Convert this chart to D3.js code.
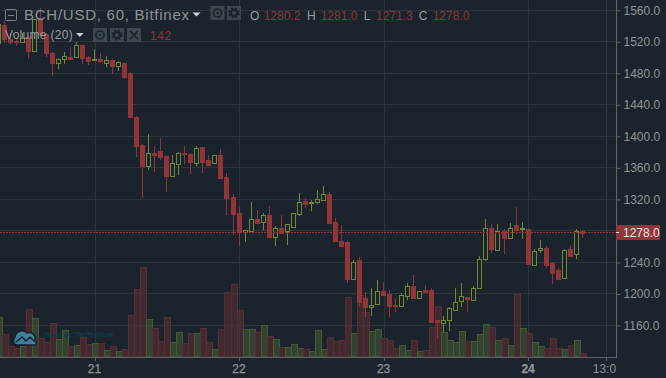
<!DOCTYPE html>
<html><head><meta charset="utf-8">
<script src="https://cdnjs.cloudflare.com/ajax/libs/d3/7.8.5/d3.min.js"></script>
<style>html,body{margin:0;padding:0;background:#1b242c;overflow:hidden}svg{display:block}text{font-family:"Liberation Sans",Arial,sans-serif}</style>
</head><body><div id="c"></div>
<script>
const firstHour=-16;
const open=[1518.3,1541,1523.4,1520.9,1519.6,1526,1508.2,1550,1529.8,1505.6,1493,1498,1500.6,1500.6,1515.8,1500.6,1496.8,1498,1493,1496.8,1489,1493,1480.3,1424.4,1388.9,1362.2,1378.7,1381.3,1375,1349.6,1364.8,1378.7,1377.5,1366,1386.4,1369.9,1366,1376.2,1348.3,1322.9,1302.6,1278.5,1279.8,1295,1291.2,1300,1272.2,1283.6,1279.8,1284.8,1301.3,1317.8,1315,1316.6,1319,1326.7,1291.2,1267,1265.8,1218.9,1243,1194.7,1183.3,1187,1203.6,1199.8,1186,1184.6,1197.3,1210,1194.7,1204.9,1204.9,1166.8,1163,1166.8,1179.5,1191,1196,1192.2,1207.4,1244.2,1283.6,1255.7,1279.8,1270.9,1287.4,1282.3,1282.3,1236.6,1255.7,1258.2,1239.1,1230.3,1220.1,1257,1250.6,1280.2];
const high=[1547.5,1547.5,1531,1524.7,1531,1527,1549,1562.7,1531,1507,1499,1507,1513,1519.6,1516,1502,1510.7,1505.6,1501.8,1498,1495.5,1494,1481.5,1425.7,1390,1402.8,1387.6,1397.8,1376.2,1376.2,1380,1387.6,1378.7,1387.6,1386.4,1376.2,1376.5,1383.8,1353.4,1326.7,1310.2,1281,1316.6,1306.4,1302.6,1311.5,1286,1300,1288.6,1302.6,1328,1321.6,1319,1331.8,1337,1329.3,1296.3,1287.4,1267,1243,1246.8,1202.3,1207.4,1217.6,1215,1204.9,1194.7,1201,1213.8,1224,1203.6,1211.2,1207.4,1167,1171.9,1183.3,1207.4,1213.8,1196,1210,1248,1295,1288.6,1288.6,1282.3,1290,1310.2,1291.2,1283,1256.9,1268.3,1260.7,1240.4,1232.8,1257,1262,1282.3,1281];
const low=[1515.8,1518.3,1517,1514.5,1518.3,1499,1508,1528.5,1500.6,1476.5,1485.3,1491.7,1498,1500,1491.7,1490.4,1495.5,1493,1487.9,1479,1482.8,1474,1423,1373.7,1321.6,1357,1354.6,1369.9,1329.3,1349,1350.8,1364.8,1352.1,1362.2,1353.4,1363.5,1365.8,1345.7,1300,1274.7,1260.7,1265.8,1279.8,1288.6,1281,1272,1260.7,1276,1262,1284.8,1298.8,1309,1305,1314,1318,1288.6,1265.8,1259.4,1213.8,1218,1183.3,1170.6,1171.9,1186,1197.3,1170.6,1177,1183.3,1192.2,1194.7,1193.5,1202.3,1164,1144,1151.6,1152.8,1179.5,1183.3,1177,1192,1207,1241.7,1251.8,1255.7,1250.6,1270.9,1276,1269.6,1237.7,1236.6,1251.8,1232.8,1212.5,1217.6,1220,1248,1244.2,1271.3];
const close=[1542.4,1523.4,1519.6,1519.6,1524.7,1508.2,1548.8,1529.8,1505.6,1493,1498,1501.8,1498,1515.8,1499.3,1495.5,1498,1495.5,1496.8,1489,1494,1475.2,1424.4,1387.6,1362.2,1378.7,1376.2,1373.7,1349.6,1366,1378.7,1377.5,1367.3,1385,1367.3,1363.5,1376.2,1347,1321.6,1301.3,1278.5,1281,1295,1289.9,1300,1272.2,1283.6,1277.2,1288.6,1302.6,1316.6,1314,1316.6,1320.4,1326.7,1290,1267,1260.7,1218.9,1240.4,1189.7,1183.3,1186,1203.6,1198.5,1184.6,1184.6,1198.5,1210,1194.7,1203.6,1202.3,1164.3,1164.3,1166.8,1182,1189.7,1197.3,1193.5,1207.4,1244.2,1283.6,1257,1279.8,1270.9,1283.6,1281,1283.6,1237.9,1254.4,1258.2,1236.6,1226.5,1218.9,1255.7,1248,1279.8,1278];
const volume=[1950,1085,485,385,500,2350,1900,900,700,1650,850,1300,500,550,950,600,650,650,300,500,250,350,2050,3350,4450,1850,1400,750,1950,700,1200,650,1150,1150,1400,700,350,1350,3200,3600,2300,1350,1350,1200,1550,1000,850,450,450,600,400,350,250,1300,350,950,750,800,2950,1150,3050,2200,1250,1350,900,800,400,550,300,800,250,300,1450,2500,1200,800,700,1250,750,750,1100,1600,1450,800,900,550,3100,1400,1150,700,500,400,900,400,350,550,800,142];
const priceTicks=[1560,1520,1480,1440,1400,1360,1320,1280,1240,1200,1160];
const timeTicks=[{h:0,label:"21",bold:false},{h:24,label:"22",bold:false},{h:48,label:"23",bold:false},{h:72,label:"24",bold:true},{h:85,label:"13:0",bold:false}];
const lastPrice=1278;
const header=["BCH/USD, 60, Bitfinex"];
const ohlc=[["O","1280.2"],["H","1281.0"],["L","1271.3"],["C","1278.0"]];

const W=666,H=378;
const RED="#913538",GREEN="#6f8a36",BG="#1b242c",GRID="#2b363b",TXT="#929495";
const svg=d3.select("#c").append("svg").attr("width",W).attr("height",H);
svg.append("rect").attr("width",W).attr("height",H).attr("fill",BG);
const x=d3.scaleLinear().domain([0,72]).range([95,528.6]);
const y=d3.scaleLinear().domain([1120,1573]).range([357,0]);
const v=d3.scaleLinear().domain([0,5000]).range([355.7,255.7]);
const px=a=>Math.round(a)+.5;
const grid=svg.append("g");
priceTicks.forEach(t=>grid.append("line").attr("x1",0).attr("x2",617).attr("y1",px(y(t)-.5)).attr("y2",px(y(t)-.5)).attr("stroke",GRID));
timeTicks.forEach(t=>grid.append("line").attr("y1",0).attr("y2",357).attr("x1",px(x(t.h)-.5)).attr("x2",px(x(t.h)-.5)).attr("stroke",GRID));
const data=open.map((o,i)=>({i:i+firstHour,o,h:high[i],l:low[i],c:close[i],v:volume[i]}));
// volume
const vg=svg.append("g");
vg.selectAll("rect").data(data).join("rect")
 .attr("x",d=>Math.round(x(d.i)-3)+.5).attr("width",d=>Math.round(x(d.i+1)-3)-Math.round(x(d.i)-3)).attr("y",d=>Math.round(v(d.v))+.5).attr("height",d=>Math.max(1,Math.round(355.7-v(d.v))))
 .attr("fill",d=>d.c>=d.o?"#43583a":"#5a2e34").attr("fill-opacity",.6)
 .attr("stroke",d=>d.c>=d.o?"#465a30":"#582d34").attr("stroke-width",1);
// logo
const lg=svg.append("g").attr("opacity",.8);
lg.append("path").attr("d","M16 345a5 5 0 0 1 -1-8a7 7 0 0 1 12-4a6 6 0 0 1 8 7a3 3 0 0 1 0 5z").attr("fill","#4796bd").attr("stroke","#0f1a22").attr("stroke-width",1.5);
lg.append("path").attr("d","M16 342l6-5 4 4 4-4 5 5").attr("fill","none").attr("stroke","#10202c").attr("stroke-width",1.5);
lg.append("text").attr("x",42).attr("y",337).attr("font-size",6.4).attr("font-weight","bold").attr("letter-spacing",.15).attr("fill","#0c2431").attr("stroke","#1f5570").attr("stroke-width",.25).text("charts by TradingView");
// candles
const cg=svg.append("g");
const cs=cg.selectAll("g").data(data).join("g");
cs.append("line").attr("x1",d=>Math.round(x(d.i))-.5).attr("x2",d=>Math.round(x(d.i))-.5).attr("y1",d=>y(d.h)).attr("y2",d=>y(d.l)).attr("stroke",d=>d.c>=d.o?GREEN:RED).attr("stroke-width",1);
cs.append("rect").attr("x",d=>Math.round(x(d.i))-2.5).attr("width",4)
 .attr("y",d=>Math.round(y(Math.max(d.o,d.c)))+.5).attr("height",d=>Math.max(1,Math.round(y(Math.min(d.o,d.c))-y(Math.max(d.o,d.c)))))
 .attr("fill",d=>d.c>=d.o?BG:RED).attr("stroke",d=>d.c>=d.o?GREEN:RED);
// price line
const pl=px(y(lastPrice)-.5);
svg.append("line").attr("x1",0).attr("x2",617).attr("y1",pl).attr("y2",pl).attr("stroke","#96363a").attr("stroke-dasharray","2 1");
// axes
const ya=svg.append("g").attr("transform","translate(616.5,0)");
ya.call(d3.axisRight(y).tickValues(priceTicks).tickSize(4).tickPadding(3).tickFormat(d3.format(".1f")));
ya.select(".domain").attr("d","M0,0V357.5").attr("stroke","#62665f");
ya.selectAll(".tick line").attr("stroke","#62665f");
ya.selectAll("text").attr("fill",TXT).attr("font-size",12).attr("font-family",'"Liberation Sans",Arial,sans-serif').attr("x",7);
ya.selectAll(".tick").filter(d=>d===1280).select("text").remove();
const xa=svg.append("g").attr("transform","translate(0,357)");
xa.append("line").attr("x1",0).attr("x2",617).attr("y1",.5).attr("y2",.5).attr("stroke","#5c6367");
xa.selectAll("line.t").data(timeTicks).join("line").attr("class","t").attr("x1",d=>px(x(d.h)-.5)).attr("x2",d=>px(x(d.h)-.5)).attr("y1",0).attr("y2",4).attr("stroke","#5c6367");
xa.selectAll("text").data(timeTicks).join("text").attr("x",d=>x(d.h)-(d.label.length>2?2.5:.5)).attr("y",16).attr("text-anchor","middle")
 .attr("font-size",12).attr("font-weight",d=>d.bold?"bold":"normal").attr("fill",TXT).attr("stroke",TXT).attr("stroke-width",d=>d.label.length>2?0:.25).text(d=>d.label);
// price label
svg.append("rect").attr("x",616).attr("y",225).attr("width",44).attr("height",15).attr("fill",RED);
svg.append("line").attr("x1",616).attr("x2",619).attr("y1",pl).attr("y2",pl).attr("stroke","#e8e2e2");
svg.append("text").attr("x",623).attr("y",237).attr("font-size",12).attr("fill","#ece6e6").text(d3.format(".1f")(lastPrice));
// header
const hg=svg.append("g");
hg.append("rect").attr("x",5.5).attr("y",9.5).attr("width",11).attr("height",11).attr("rx",1).attr("fill","none").attr("stroke","#7d8285");
hg.append("line").attr("x1",8).attr("x2",14).attr("y1",15.5).attr("y2",15.5).attr("stroke","#7d8285");
hg.append("text").attr("x",24).attr("y",20).attr("font-size",15).attr("letter-spacing",.75).attr("fill","#8f9396").text(header[0]);
hg.append("path").attr("d","M192.5 12.5h8l-4 4z").attr("fill","#cfd2d3");
function iconBox(g,xx,yy,kind){
 g.append("rect").attr("x",xx).attr("y",yy).attr("width",14).attr("height",14).attr("fill","#3b484c");
 const cx=xx+7,cy=yy+7;
 if(kind==="eye"){g.append("circle").attr("cx",cx).attr("cy",cy).attr("r",4).attr("fill","none").attr("stroke","#1b242c").attr("stroke-width",1.6);g.append("circle").attr("cx",cx).attr("cy",cy).attr("r",1.2).attr("fill","#1b242c");}
 if(kind==="gear"){g.append("circle").attr("cx",cx).attr("cy",cy).attr("r",3.2).attr("fill","none").attr("stroke","#1b242c").attr("stroke-width",2.4);g.append("circle").attr("cx",cx).attr("cy",cy).attr("r",5).attr("fill","none").attr("stroke","#1b242c").attr("stroke-width",1.4).attr("stroke-dasharray","2 2");}
 if(kind==="x"){g.append("path").attr("d",`M${cx-4} ${cy-4}L${cx+4} ${cy+4}M${cx+4} ${cy-4}L${cx-4} ${cy+4}`).attr("stroke","#1b242c").attr("stroke-width",1.6);}
}
iconBox(hg,210.5,6,"eye");iconBox(hg,227,6,"gear");
let ox=[250,263.7,307,320.7,363.7,376,418.7,432.7];
ohlc.forEach((p,i)=>{
 hg.append("text").attr("x",ox[i*2]).attr("y",20).attr("font-size",12).attr("fill","#9b9ea1").text(p[0]);
 hg.append("text").attr("x",ox[i*2+1]).attr("y",20).attr("font-size",12).attr("fill","#8d3438").text(p[1]);
});
const vt=svg.append("g");
vt.append("text").attr("x",5).attr("y",39).attr("font-size",12).attr("letter-spacing",.3).attr("fill","#9a9da0").text("Volume (20)");
vt.append("path").attr("d","M76 33h7.5l-3.75 4z").attr("fill","#cfd2d3");
iconBox(vt,93,28,"eye");iconBox(vt,110,28,"gear");iconBox(vt,127,28,"x");
vt.append("text").attr("x",150).attr("y",40).attr("font-size",12).attr("letter-spacing",.6).attr("fill","#8d3438").text("142");
</script></body></html>
